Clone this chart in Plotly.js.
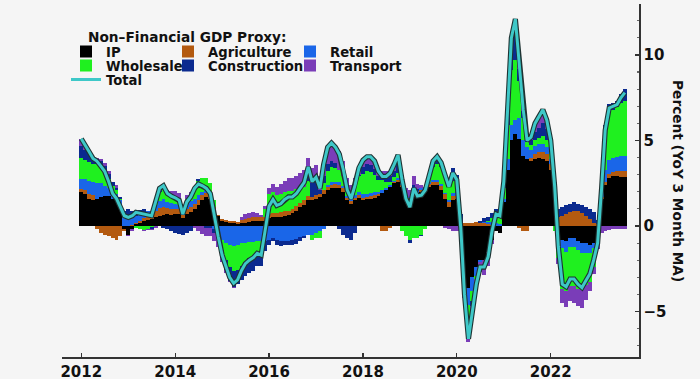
<!DOCTYPE html>
<html><head><meta charset="utf-8">
<script src="https://cdn.plot.ly/plotly-3.0.1.min.js"></script>
<style>html,body{margin:0;padding:0;background:#f5f5f5;}#chart{width:700px;height:379px;}</style>
</head><body><div id="chart"></div>
<script>
// Monthly data, Jan 2012 .. Aug 2023 (percent, YoY 3-month MA contributions)
const startYear = 2012;
const ip = [2.0,1.9,1.6,1.5,1.6,1.7,1.75,1.75,1.6,1.5,1.2,-0.2,
 -0.5,-0.2,0.1,0.2,0.3,0.35,0.4,0.5,0.6,0.65,0.7,0.65,
 0.7,0.7,0.45,0.7,0.8,1.0,1.2,1.5,1.7,1.6,1.0,0.6,
 0.3,0.25,0.2,0.15,0.1,0.15,0.2,0.25,0.3,0.3,0.3,0.3,
 0.45,0.5,0.5,0.55,0.6,0.65,0.75,0.9,1.1,1.25,1.5,1.5,
 1.6,1.7,1.9,2.1,2.2,2.25,2.2,2.0,1.5,1.3,1.5,1.65,
 1.5,1.55,1.6,1.65,1.75,1.95,2.1,2.3,2.5,2.6,2.3,1.75,
 1.6,1.9,1.85,2.0,2.1,2.3,2.4,2.4,2.1,1.55,1.1,1.5,
 1.6,-0.5,-2.8,-3.6,-3.0,-2.4,-2.0,-2.0,-1.5,-0.8,-0.3,-0.4,
 1.4,3.3,5.0,5.4,5.1,4.1,3.9,3.8,3.9,3.95,3.9,3.8,
 3.3,1.6,-0.3,-0.8,-0.9,-0.7,-0.7,-0.9,-1.0,-1.0,-1.1,-1.0,
 -0.6,1.6,2.4,2.8,2.9,2.9,2.85,2.85];
const agriculture = [0.15,0.2,0.25,0.3,-0.2,-0.4,-0.5,-0.6,-0.7,-0.8,-0.6,-0.1,
 0.0,0.05,0.1,0.1,0.15,0.2,0.25,0.4,0.45,0.45,0.35,0.35,
 0.3,0.3,0.2,0.3,0.3,0.3,0.3,0.3,0.25,0.2,0.1,0.05,
 0.1,0.1,0.1,0.15,0.15,0.2,0.2,0.2,0.2,0.2,0.2,0.2,
 0.25,0.25,0.25,0.25,0.25,0.25,0.25,0.25,0.25,0.25,0.25,0.2,
 0.2,0.2,0.2,0.2,0.2,0.2,0.2,0.2,0.15,0.15,0.15,0.15,
 0.15,0.15,0.15,0.15,0.1,-0.3,-0.3,-0.1,0.05,0.1,0.1,0.05,
 0.05,0.1,0.1,0.1,0.1,0.15,0.2,0.2,0.25,0.3,0.3,0.25,
 0.2,0.2,0.2,0.2,0.2,0.25,0.2,0.15,0.1,0.05,0.0,0.0,
 0.0,0.0,0.0,0.0,-0.1,-0.3,-0.3,0.2,0.3,0.35,0.4,0.4,
 0.3,0.3,0.5,0.6,0.7,0.8,0.9,0.85,0.75,0.6,0.4,0.2,
 0.1,0.1,0.2,0.25,0.25,0.3,0.35,0.35];
const retail = [0.6,0.65,0.8,0.8,0.9,0.8,0.6,0.45,0.4,0.35,0.3,0.5,
 0.5,0.5,0.4,0.4,0.35,0.3,0.2,0.3,0.4,0.45,0.35,0.35,
 0.3,0.2,0.1,0.3,0.35,0.3,0.3,0.2,0.15,0.05,-0.2,-0.4,
 -0.8,-1.0,-1.1,-1.15,-1.1,-1.0,-1.0,-0.95,-0.95,-0.9,-0.9,-0.85,
 -0.8,-0.7,-0.8,-0.85,-0.85,-0.85,-0.8,-0.75,-0.65,-0.6,-0.5,-0.5,
 -0.4,-0.3,-0.2,0.1,0.15,0.15,0.15,0.15,0.1,0.1,0.15,0.2,
 0.2,0.2,0.2,0.2,0.15,0.15,0.1,0.1,0.1,0.1,0.1,0.1,
 0.05,0.1,0.1,0.1,0.1,0.1,0.1,0.1,0.1,0.1,0.1,0.2,
 0.2,0.0,-0.5,-1.0,-0.8,-0.5,-0.1,0.1,0.15,0.2,0.15,0.1,
 0.2,0.6,0.9,0.8,1.2,0.9,0.7,0.45,0.45,0.5,0.5,0.4,
 0.3,0.1,-0.3,-0.5,-0.6,-0.5,-0.5,-0.5,-0.55,-0.55,-0.5,-0.3,
 0.0,0.3,0.7,0.8,0.85,0.85,0.9,0.9];
const wholesale = [1.2,1.1,1.1,1.0,1.1,1.0,0.8,0.55,0.35,0.25,0.1,0.05,
 0.1,0.05,-0.1,-0.2,-0.25,-0.15,-0.05,0.2,0.55,0.6,0.45,0.4,
 0.4,0.3,0.2,0.3,0.35,0.5,0.85,0.8,0.7,0.65,0.4,0.0,
 -0.6,-1.0,-1.3,-1.5,-1.5,-1.35,-1.1,-0.9,-0.8,-0.6,-0.65,0.5,
 1.2,1.25,1.05,1.1,1.15,1.15,1.05,1.0,0.9,0.8,0.9,-0.3,
 -0.3,-0.4,0.4,0.8,0.9,0.8,0.75,0.6,0.45,0.5,0.6,0.9,
 1.2,1.3,1.2,1.0,0.7,0.6,0.4,0.2,0.2,0.3,-0.3,-0.6,
 -0.8,-0.7,-0.7,-0.5,-0.2,0.3,0.75,0.95,1.0,0.9,0.8,0.7,
 0.4,0.0,-0.4,-1.0,-0.6,-0.2,0.0,0.0,0.05,0.2,0.5,0.5,
 0.6,2.0,3.2,3.5,2.2,1.3,0.3,0.3,0.35,0.35,0.45,0.4,
 0.4,-0.3,-1.3,-2.4,-2.3,-2.3,-2.3,-2.3,-2.2,-1.9,-1.7,-1.1,
 -0.4,0.6,2.2,2.8,2.8,2.9,3.1,3.2];
const construction = [0.7,0.6,0.5,0.35,0.3,0.3,0.35,0.3,0.2,0.15,0.1,0.35,
 0.4,0.3,0.3,0.25,0.2,0.05,-0.1,0.1,0.2,-0.1,-0.2,-0.3,
 -0.4,-0.45,-0.5,-0.4,-0.3,0.2,0.1,0.0,-0.1,-0.1,-0.2,-0.3,
 -0.5,-0.6,-0.8,-0.9,-0.8,-0.8,-0.8,-0.9,-0.9,-0.85,-0.8,-0.6,
 -0.3,-0.2,-0.3,-0.3,-0.25,-0.25,-0.3,-0.3,-0.2,-0.1,0.3,0.8,
 0.8,0.2,0.4,0.4,0.35,0.3,-0.2,-0.5,-0.7,-0.8,-0.4,0.1,
 0.4,0.4,0.4,0.35,0.2,0.2,0.3,0.3,0.35,0.55,0.2,0.0,
 -0.2,0.3,0.1,-0.1,0.0,0.15,0.3,0.35,0.25,0.25,0.2,0.75,
 0.6,0.5,0.0,-0.6,-0.3,0.0,0.1,0.2,0.25,0.3,0.35,0.4,
 0.3,0.8,1.4,1.8,0.7,0.4,0.1,0.25,0.5,0.6,0.8,0.7,
 0.5,0.5,0.5,0.5,0.5,0.5,0.5,0.45,0.45,0.5,0.6,0.6,
 0.25,0.0,0.4,0.5,0.4,0.35,0.5,0.7];
const transport = [0.45,0.3,0.1,0.0,0.1,0.1,0.2,0.15,0.05,0.15,0.0,0.0,
 -0.1,-0.1,0.0,0.0,-0.05,-0.1,-0.1,-0.1,0.0,0.3,0.25,0.3,
 0.35,0.45,0.25,0.2,0.2,-0.1,-0.3,-0.45,-0.5,-0.5,-0.5,-0.55,
 -0.2,-0.15,-0.1,-0.1,0.0,0.2,0.3,0.3,0.3,0.25,0.15,0.15,
 0.35,0.45,0.5,0.55,0.65,0.75,0.75,0.8,0.85,0.95,1.0,0.9,
 0.95,0.8,0.9,1.0,1.05,0.9,1.1,0.85,0.6,0.35,0.4,0.4,
 0.4,0.45,0.5,0.45,0.3,0.3,0.3,0.3,0.4,0.5,0.3,0.3,
 0.4,0.5,0.3,0.2,0.0,0.0,0.05,0.05,0.0,-0.1,-0.2,-0.3,
 -0.3,-0.3,-0.5,-0.6,-0.5,-0.55,-0.6,-0.85,-0.85,-0.25,0.0,0.0,
 0.1,0.3,0.5,0.6,0.4,0.4,0.3,0.2,0.5,0.65,0.75,0.5,
 0.2,0.1,-0.3,-0.8,-0.95,-0.9,-1.0,-1.0,-1.05,-0.85,-0.5,-0.4,
 -0.35,-0.4,-0.3,-0.25,-0.2,-0.2,-0.2,-0.2];
const total = [5.1,4.75,4.35,3.95,3.8,3.5,3.2,2.6,1.9,1.6,1.1,0.6,
 0.5,0.6,0.8,0.75,0.7,0.65,0.6,1.4,2.2,2.35,1.9,1.75,
 1.65,1.5,0.7,1.4,1.7,2.2,2.45,2.35,2.2,1.9,0.6,-0.6,
 -1.7,-2.4,-3.0,-3.35,-3.15,-2.6,-2.2,-2.0,-1.85,-1.6,-1.7,-0.3,
 1.15,1.55,1.2,1.3,1.55,1.7,1.7,1.9,2.25,2.55,3.45,2.6,
 2.85,2.2,3.6,4.6,4.85,4.6,4.2,3.3,2.1,1.6,2.4,3.4,
 3.85,4.05,4.05,3.8,3.2,2.9,2.9,3.1,3.6,4.15,2.7,1.6,
 1.1,2.2,1.75,1.8,2.1,3.0,3.8,4.05,3.7,3.0,2.3,3.1,
 2.7,-0.1,-4.0,-6.6,-5.0,-3.4,-2.4,-2.4,-1.8,-0.3,0.7,0.6,
 2.6,7.0,11.0,12.1,9.5,6.8,5.0,5.2,6.0,6.4,6.8,6.2,
 5.0,2.3,-1.2,-3.4,-3.55,-3.1,-3.1,-3.4,-3.6,-3.2,-2.8,-2.0,
 -1.0,2.2,5.6,6.9,7.0,7.1,7.5,7.8];

const seriesNames = ['IP','Agriculture','Retail','Wholesale','Construction','Transport'];
const seriesColors = ['#000000','#b35a10','#1a66e8','#1ff01f','#0b2a8f','#7a3db8'];
const seriesValues = [ip, agriculture, retail, wholesale, construction, transport];
const xTickVals = ['2012-01-01','2014-01-01','2016-01-01','2018-01-01','2020-01-01','2022-01-01'];
const xTickText = ['2012','2014','2016','2018','2020','2022'];
const yTickVals = [-5, 0, 5, 10];
const legendTitle = 'Non\u2013Financial GDP Proxy:';
const yTitle = 'Percent (YoY 3 Month MA)';

const months = ip.map((_, i) => {
  const y = startYear + Math.floor(i / 12);
  const m = (i % 12) + 1;
  return y + '-' + String(m).padStart(2, '0') + '-01';
});

const FONT = 'DejaVu Sans';
const legendFont = {family: FONT, size: 13.2, weight: 'bold', color: '#111'};
const titleFont = {family: FONT, size: 13.7, weight: 'bold', color: '#111'};
const W = 700, H = 379;
const slots = [[66,52],[168,52],[290,52],[66,66],[168,66],[290,66],[66,80]];
const legendIds = ['legend','legend2','legend3','legend4','legend5','legend6','legend7'];

const traces = seriesValues.map((vals, k) => ({
  type: 'bar', name: seriesNames[k], x: months, y: vals,
  width: 31 * 86400000,
  marker: {color: seriesColors[k], line: {width: 0}},
  legend: legendIds[k], hoverinfo: 'x+y+name'
}));
traces.push({type:'scatter', mode:'lines', x: months, y: total, name:'Total outline',
  line:{color:'#1f3333', width:5.2}, showlegend:false, hoverinfo:'skip'});
traces.push({type:'scatter', mode:'lines', x: months, y: total, name:'Total',
  line:{color:'#3ec8c8', width:3}, legend: 'legend7'});

const layout = {
  width: W, height: H,
  margin: {l:62, r:61, t:4, b:22, pad:0, autoexpand:false},
  paper_bgcolor:'#f5f5f5', plot_bgcolor:'#f5f5f5',
  barmode:'relative', bargap:0,
  font:{family: FONT, size: 14, color:'#111'},
  xaxis:{type:'date', range:['2011-08-04','2023-11-19'],
    tickmode:'array', tickvals: xTickVals, ticktext: xTickText, tickangle:0,
    ticks:'inside', ticklen:4, tickwidth:1.2, tickcolor:'#333',
    showline:true, linecolor:'#333', linewidth:1.5,
    showgrid:false, zeroline:false, automargin:false,
    tickfont:{family: FONT, size:15, weight:'bold', color:'#111'}},
  yaxis:{side:'right', range:[-7.66, 12.98],
    tickmode:'array', tickvals: yTickVals,
    ticks:'inside', ticklen:4, tickwidth:1.2, tickcolor:'#333',
    showline:true, linecolor:'#333', linewidth:1.5,
    showgrid:false, zeroline:false, automargin:false,
    minor:{dtick:1, tick0:0, ticks:'inside', ticklen:2.5, tickcolor:'#666', showgrid:false},
    tickfont:{family: FONT, size:15, weight:'bold', color:'#111'}},
  annotations:[
    {text: legendTitle, xref:'paper', yref:'paper', x:(86-62)/578, y:(357-37)/353,
     xanchor:'left', yanchor:'middle', showarrow:false, font: titleFont},
    {text: yTitle, xref:'paper', yref:'paper', x:(679-62)/578, y:(357-181)/353,
     xanchor:'center', yanchor:'middle', textangle:90, showarrow:false, font: titleFont}
  ]
};
legendIds.forEach((id, k) => {
  layout[id] = {xref:'container', yref:'container', x: slots[k][0]/W, y: 1 - slots[k][1]/H,
    xanchor:'left', yanchor:'middle', bgcolor:'rgba(0,0,0,0)', borderwidth:0, font: legendFont};
});

Plotly.newPlot('chart', traces, layout, {displayModeBar:false, staticPlot:true});
</script></body></html>
